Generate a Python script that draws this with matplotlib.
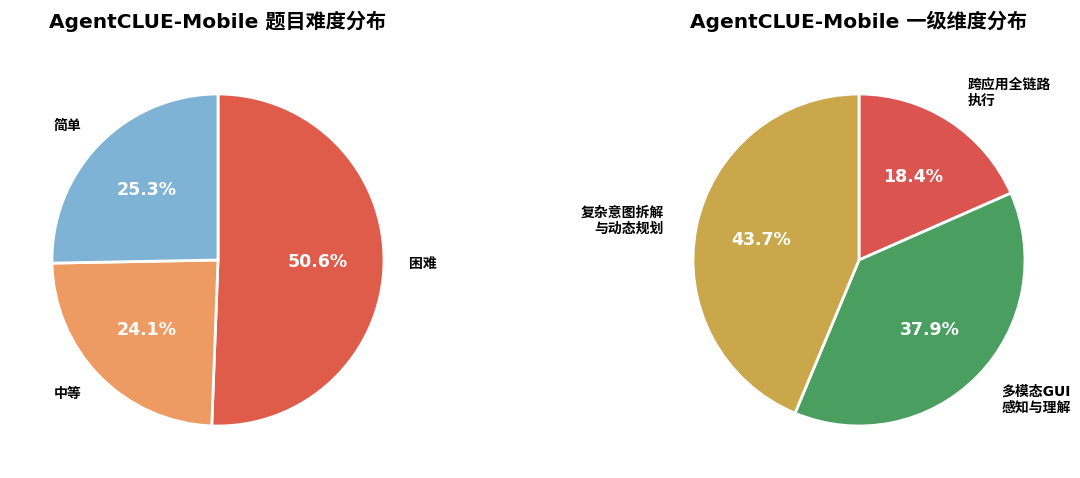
import matplotlib.pyplot as plt

plt.rcParams['font.family'] = ['DejaVu Sans', 'Noto Sans CJK SC']

# 左图：题目难度分布
diff_labels = ['困难', '中等', '简单']
diff_values = [50.6, 24.1, 25.3]
diff_colors = ['#e05c4a', '#ed9b63', '#7fb3d5']

# 右图：一级维度分布
dim_labels = ['跨应用全链路\n执行', '多模态GUI\n感知与理解', '复杂意图拆解\n与动态规划']
dim_values = [18.4, 37.9, 43.7]
dim_colors = ['#db5450', '#4a9e60', '#c9a74a']

W, H = 1080, 478
fig = plt.figure(figsize=(W / 100, H / 100), dpi=100)

r = 166
half = 1.25 * r
ax1 = fig.add_axes([(218 - half) / W, (218 - half) / H, 2 * half / W, 2 * half / H])
ax2 = fig.add_axes([(859 - half) / W, (218 - half) / H, 2 * half / W, 2 * half / H])


def draw_pie(ax, values, labels, colors, title, ld):
    wedges, texts, autotexts = ax.pie(
        values, labels=labels, colors=colors, startangle=90, counterclock=False,
        autopct='%1.1f%%', pctdistance=0.6, labeldistance=ld,
        wedgeprops=dict(edgecolor='white', linewidth=2),
        textprops=dict(fontsize=10, fontweight='bold'))
    for t in autotexts:
        t.set_color('white')
        t.set_fontsize(12.5)
        t.set_fontweight('bold')
    ax.set_xlim(-1.25, 1.25)
    ax.set_ylim(-1.25, 1.25)
    ax.set_aspect('equal')
    ax.set_title(title, fontsize=14.5, fontweight='bold', pad=18)


draw_pie(ax1, diff_values, diff_labels, diff_colors, 'AgentCLUE-Mobile 题目难度分布', 1.15)
draw_pie(ax2, dim_values, dim_labels, dim_colors, 'AgentCLUE-Mobile 一级维度分布', 1.2)

plt.savefig('out.png', dpi=100)
